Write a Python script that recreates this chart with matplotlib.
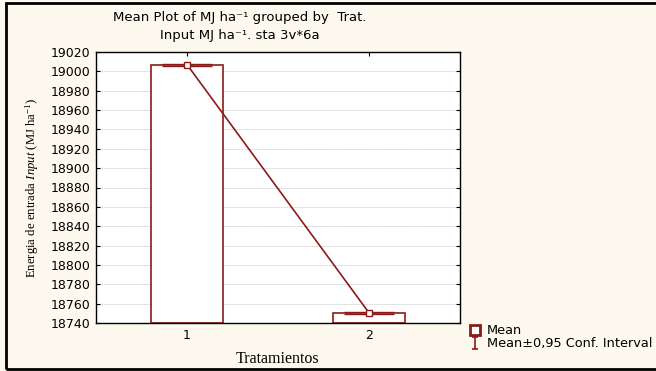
#STATISTICAの平均値プロットを再現
#棒グラフ + 平均値の折れ線 + 95%信頼区間

import numpy as np
import matplotlib.pyplot as plt
from matplotlib.lines import Line2D
from matplotlib.patches import Rectangle
from matplotlib.path import Path


#データ
trat = [1, 2]
trat_labels = ['1', '2']
means = [19007.0, 18750.5]
ci95 = [1.0, 1.2]
y_base = 18740
y_ticks = list(range(18740, 19021, 20))

red = '#8B1A1A'
bg = '#FEF9EE'

#斜体部分もserifで
plt.rcParams['mathtext.fontset'] = 'custom'
plt.rcParams['mathtext.rm'] = 'Liberation Serif'
plt.rcParams['mathtext.it'] = 'Liberation Serif:italic'

fig = plt.figure(figsize=(6.56, 3.71), dpi=100)
fig.patch.set_facecolor(bg)

#外枠
fig.patches.append(Rectangle((6 / 656, 2 / 371), 1.0, 366 / 371,
                             transform=fig.transFigure, fill=False,
                             edgecolor='black', linewidth=2))

ax = fig.add_axes([96 / 656, 48 / 371, 364 / 656, 271 / 371])
ax.set_facecolor('white')

#棒グラフ
heights = [m - y_base for m in means]
ax.bar(trat, heights, bottom=y_base, width=0.4, color='white',
       edgecolor=red, linewidth=1.2, zorder=2)

#平均値の折れ線
ax.plot(trat, means, color=red, linewidth=1.2, marker='s', markersize=4,
        markerfacecolor='white', markeredgecolor=red, markeredgewidth=1,
        zorder=4)

#信頼区間
ax.errorbar(trat, means, yerr=ci95, fmt='none', ecolor=red, elinewidth=1,
            capsize=18, capthick=1, zorder=3)

#軸
ax.set_xlim(0.5, 2.5)
ax.set_ylim(18740, 19020)
ax.set_xticks(trat)
ax.set_xticklabels(trat_labels)
ax.set_yticks(y_ticks)
ax.yaxis.grid(True, color='#CFCFCF', linestyle=(0, (2, 1)), linewidth=0.6)
ax.set_axisbelow(True)
ax.tick_params(direction='in', length=3, top=True, right=True,
               labelsize=9, pad=4)
for lab in ax.get_xticklabels() + ax.get_yticklabels():
    lab.set_family('DejaVu Sans')
for s in ax.spines.values():
    s.set_color('black')
    s.set_linewidth(1)

ax.set_xlabel('Tratamientos', family='Liberation Serif', fontsize=11.5,
              labelpad=7)
ax.set_ylabel('Energia de entrada $\\mathit{Input}$ (MJ ha$^{-1}$)',
              family='Liberation Serif', fontsize=9.2, labelpad=7)

#タイトル
fig.text(240 / 656, 1 - 18 / 371, 'Mean Plot of MJ ha\u207b\u00b9 grouped by  Trat.',
         ha='center', va='center', fontsize=9.5, family='DejaVu Sans')
fig.text(240 / 656, 1 - 36 / 371, 'Input MJ ha\u207b\u00b9. sta 3v*6a',
         ha='center', va='center', fontsize=9.5, family='DejaVu Sans')

#凡例
ibar = Path([(-0.5, -1), (0.5, -1), (0, -1), (0, 1), (-0.5, 1), (0.5, 1)],
            [Path.MOVETO, Path.LINETO, Path.MOVETO, Path.LINETO,
             Path.MOVETO, Path.LINETO])
h_mean = Line2D([], [], linestyle='none', marker='s', markersize=7,
                markerfacecolor='white', markeredgecolor=red,
                markeredgewidth=2)
h_ci = Line2D([], [], linestyle='none', marker=ibar, markersize=9,
              markerfacecolor='none', markeredgecolor=red,
              markeredgewidth=1.2)
fig.legend([h_mean, h_ci], ['Mean', 'Mean\u00b10,95 Conf. Interval'],
           loc='upper left', bbox_to_anchor=(462 / 656, 1 - 318 / 371),
           frameon=False, handlelength=1.0, handletextpad=0.45,
           labelspacing=0.0, borderpad=0,
           prop={'family': 'DejaVu Sans', 'size': 9.3})

fig.savefig('out.png', dpi=100, facecolor=bg)
